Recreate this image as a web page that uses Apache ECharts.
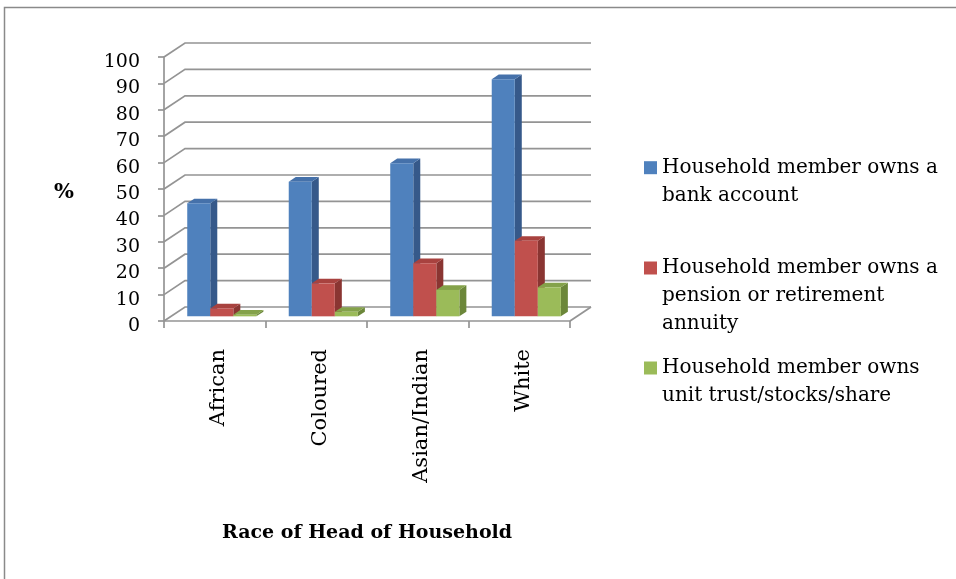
<!DOCTYPE html>
<html>
<head>
<meta charset="utf-8">
<script src="https://cdn.jsdelivr.net/npm/echarts@6/dist/echarts.min.js"></script>
<style>
html,body{margin:0;padding:0;background:#fff;}
#chart{width:956px;height:579px;}
</style>
</head>
<body>
<div id="chart"></div>
<script>
// ---- data ----
const categories = ['African', 'Coloured', 'Asian/Indian', 'White'];
const seriesNames = [
  'Household member owns a bank account',
  'Household member owns a pension or retirement annuity',
  'Household member owns unit trust/stocks/share'
];
const bankAccount = [42.8, 51.0, 58.0, 89.8];
const pensionAnnuity = [3.0, 12.5, 20.1, 28.6];
const unitTrustStocks = [0.6, 1.7, 10.0, 11.0];
const yTicks = [0, 10, 20, 30, 40, 50, 60, 70, 80, 90, 100];
const legendLines = [
  ['Household member owns a', 'bank account'],
  ['Household member owns a', 'pension or retirement', 'annuity'],
  ['Household member owns', 'unit trust/stocks/share']
];
const xAxisTitle = 'Race of Head of Household';
const yAxisTitle = '%';

// ---- style ----
const SERIF = "'DejaVu Serif', 'Liberation Serif', serif";
const palette = [
  { front: '#4F81BD', top: '#4571AA', side: '#36598A' },
  { front: '#C0504D', top: '#A8423F', side: '#8A3532' },
  { front: '#9BBB59', top: '#84A24A', side: '#6C873A' }
];
const DX = 21, DY = -14;           // wall depth vector (px)
const BAR_FRONT = 1 / 3, BAR_DEPTH = 1 / 3;
const BAR_W = 0.227, GROUP_OFF = 0.34;
const GRID_COLOR = '#949494';
const LEG_LH = 27.7;

const allValues = [bankAccount, pensionAnnuity, unitTrustStocks];

function barRenderer(si) {
  return function (params, api) {
    const idx = api.value(0), val = api.value(1);
    const c0 = api.coord([idx, 0]);
    const c1 = api.coord([idx, val]);
    const band = api.size([1, 0])[0];
    const w = band * BAR_W;
    const fx = DX * BAR_FRONT, fy = DY * BAR_FRONT;
    const dx = DX * BAR_DEPTH, dy = DY * BAR_DEPTH;
    const x0 = c0[0] - band * GROUP_OFF + si * w + fx;
    const yb = c0[1] + fy, yt = c1[1] + fy;
    const col = palette[si];
    return {
      type: 'group',
      children: [
        { type: 'polygon', shape: { points: [[x0 + w, yb], [x0 + w, yt], [x0 + w + dx, yt + dy], [x0 + w + dx, yb + dy]] },
          style: { fill: col.side } },
        { type: 'polygon', shape: { points: [[x0, yt], [x0 + w, yt], [x0 + w + dx, yt + dy], [x0 + dx, yt + dy]] },
          style: { fill: col.top } },
        { type: 'rect', shape: { x: x0, y: yt, width: w, height: yb - yt },
          style: { fill: col.front } }
      ]
    };
  };
}

function frameRenderer(params, api) {
  const v = api.value(1);
  const c = api.coord([0, v]);
  const band = api.size([1, 0])[0];
  const xl = c[0] - band / 2;
  const xr = xl + band * categories.length;
  const y = c[1];
  const children = [{
    type: 'polyline',
    shape: { points: [[xl, y], [xl + DX, y + DY], [xr + DX, y + DY]] },
    style: { stroke: GRID_COLOR, lineWidth: 1.7, fill: null }
  }];
  if (v === yTicks[0]) {
    children.push({ type: 'line', shape: { x1: xr, y1: y, x2: xr + DX, y2: y + DY },
      style: { stroke: GRID_COLOR, lineWidth: 1.7 } });
  }
  return { type: 'group', children };
}

// legend icon aligned with first text line: pad the text with leading blank lines
const legendIconCenters = [167.7, 268, 368];
const legends = seriesNames.map((name, k) => {
  const n = legendLines[k].length;
  const blank = new Array(n - 1).fill('\n').join('');
  return {
    data: [name],
    left: 644,
    top: legendIconCenters[k] - (2 * n - 1) * LEG_LH / 2,
    orient: 'vertical',
    icon: 'rect',
    itemWidth: 13,
    itemHeight: 13,
    padding: 0,
    selectedMode: false,
    formatter: () => blank + legendLines[k].join('\n'),
    textStyle: { fontFamily: SERIF, fontSize: 20, color: '#000', lineHeight: LEG_LH }
  };
});

const series = [{
  type: 'custom',
  name: 'frame',
  silent: true,
  z: 1,
  clip: false,
  renderItem: frameRenderer,
  data: yTicks.map(v => [0, v]),
  tooltip: { show: false }
}];
allValues.forEach((vals, si) => {
  series.push({
    type: 'custom',
    name: seriesNames[si],
    z: 3 + si,
    clip: false,
    itemStyle: { color: palette[si].front },
    renderItem: barRenderer(si),
    encode: { x: 0, y: 1 },
    data: vals.map((v, i) => [i, v])
  });
});

const chart = echarts.init(document.getElementById('chart'), null, { renderer: 'canvas' });
chart.setOption({
  backgroundColor: '#fff',
  animation: false,
  color: palette.map(p => p.front),
  graphic: [{
    type: 'polyline', silent: true, z: 0,
    shape: { points: [[4.5, 600], [4.5, 7.5], [1000, 7.5]] },
    style: { fill: null, stroke: '#8a8a8a', lineWidth: 1.5 }
  }],
  legend: legends,
  grid: { left: 164, top: 57, width: 406, height: 264, containLabel: false },
  xAxis: {
    type: 'category',
    data: categories,
    name: xAxisTitle,
    nameLocation: 'middle',
    nameGap: 203,
    nameTextStyle: { fontFamily: SERIF, fontWeight: 'bold', fontSize: 19, color: '#000' },
    axisLine: { show: true, lineStyle: { color: GRID_COLOR, width: 1.7 } },
    axisTick: { show: true, length: 7, lineStyle: { color: GRID_COLOR, width: 1.7 } },
    axisLabel: { rotate: 90, margin: 28, interval: 0, fontFamily: SERIF, fontSize: 21, color: '#000',
      verticalAlign: 'top', lineHeight: 8 },
    splitLine: { show: false }
  },
  yAxis: {
    type: 'value',
    min: 0, max: 100, interval: 10,
    name: yAxisTitle,
    nameLocation: 'middle',
    nameRotate: 0,
    nameGap: 90,
    nameTextStyle: { fontFamily: SERIF, fontWeight: 'bold', fontSize: 21, color: '#000',
      verticalAlign: 'top', lineHeight: 8 },
    axisLine: { show: true, lineStyle: { color: GRID_COLOR, width: 1.7 } },
    axisTick: { show: true, length: 6, lineStyle: { color: GRID_COLOR, width: 1.7 } },
    axisLabel: { margin: 24, fontFamily: SERIF, fontSize: 19, color: '#000',
      verticalAlign: 'top', lineHeight: 10 },
    splitLine: { show: false }
  },
  series: series
});
</script>
</body>
</html>
